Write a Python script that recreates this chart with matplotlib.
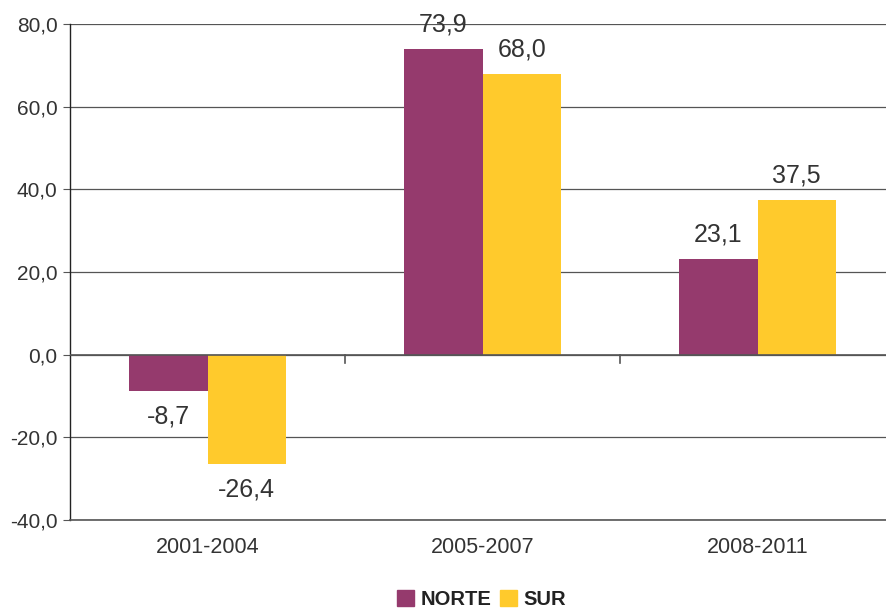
import matplotlib
matplotlib.use("Agg")
import matplotlib.pyplot as plt
from matplotlib.ticker import MultipleLocator, FuncFormatter
from matplotlib.patches import Patch

plt.rcParams['font.family'] = ['Liberation Sans', 'DejaVu Sans']

periods = ["2001-2004", "2005-2007", "2008-2011"]
norte = [-8.7, 73.9, 23.1]
sur = [-26.4, 68.0, 37.5]
series_names = ["NORTE", "SUR"]

c_norte = "#953A6D"
c_sur = "#FFCA2C"
text_c = "#333333"

fig = plt.figure(figsize=(8.86, 6.08), dpi=100)
ax = fig.add_axes([70/886, 1 - 520/608, 1 - 70/886, (520 - 24)/608])

x = list(range(len(periods)))
w = 0.285
bars_n = ax.bar([i - w/2 for i in x], norte, width=w, color=c_norte, zorder=3)
bars_s = ax.bar([i + w/2 for i in x], sur, width=w, color=c_sur, zorder=3)

def fmt(v):
    return f"{v:.1f}".replace(".", ",")

for bars, vals in ((bars_n, norte), (bars_s, sur)):
    for b, v in zip(bars, vals):
        cx = b.get_x() + b.get_width() / 2
        off = 9 if v >= 0 else -10
        ax.annotate(fmt(v), (cx, v), xytext=(0, off), textcoords="offset points",
                    ha="center", va="bottom" if v >= 0 else "top",
                    fontsize=18, color=text_c)

ax.set_ylim(-40, 80)
ax.set_xlim(-0.5, 2.5 - 9/275)
ax.yaxis.set_major_locator(MultipleLocator(20))
ax.yaxis.set_major_formatter(FuncFormatter(lambda v, p: fmt(v)))
ax.grid(axis="y", color="#555555", linewidth=0.9, zorder=0)
ax.axhline(0, color="#555555", linewidth=1.2, zorder=4)
ax.axhline(-40, color="#555555", linewidth=1.2, zorder=4, clip_on=False)

for s in ("top", "right", "bottom"):
    ax.spines[s].set_visible(False)
ax.spines["left"].set_color("#222222")
ax.spines["left"].set_linewidth(1.0)

ax.tick_params(axis="y", length=5, color="#555555", labelsize=15, labelcolor=text_c, pad=4)
ax.set_xticks(x)
ax.set_xticklabels(periods)
ax.tick_params(axis="x", length=0, labelsize=15.5, labelcolor=text_c, pad=12)

# category separators on the zero line
for b in (0.5, 1.5):
    ax.plot([b, b], [0, -2], color="#555555", linewidth=1.2, zorder=4, clip_on=False)

handles = [Patch(color=c_norte), Patch(color=c_sur)]
fig.legend(handles, series_names, loc="lower center", bbox_to_anchor=(0.5435, -0.032),
           ncol=2, frameon=False, handlelength=0.85, handleheight=0.85,
           handletextpad=0.3, columnspacing=0.45,
           prop={"weight": "bold", "size": 14.5})
for t in fig.legends[0].get_texts():
    t.set_color("#222222")

fig.savefig("out.png", dpi=100)
